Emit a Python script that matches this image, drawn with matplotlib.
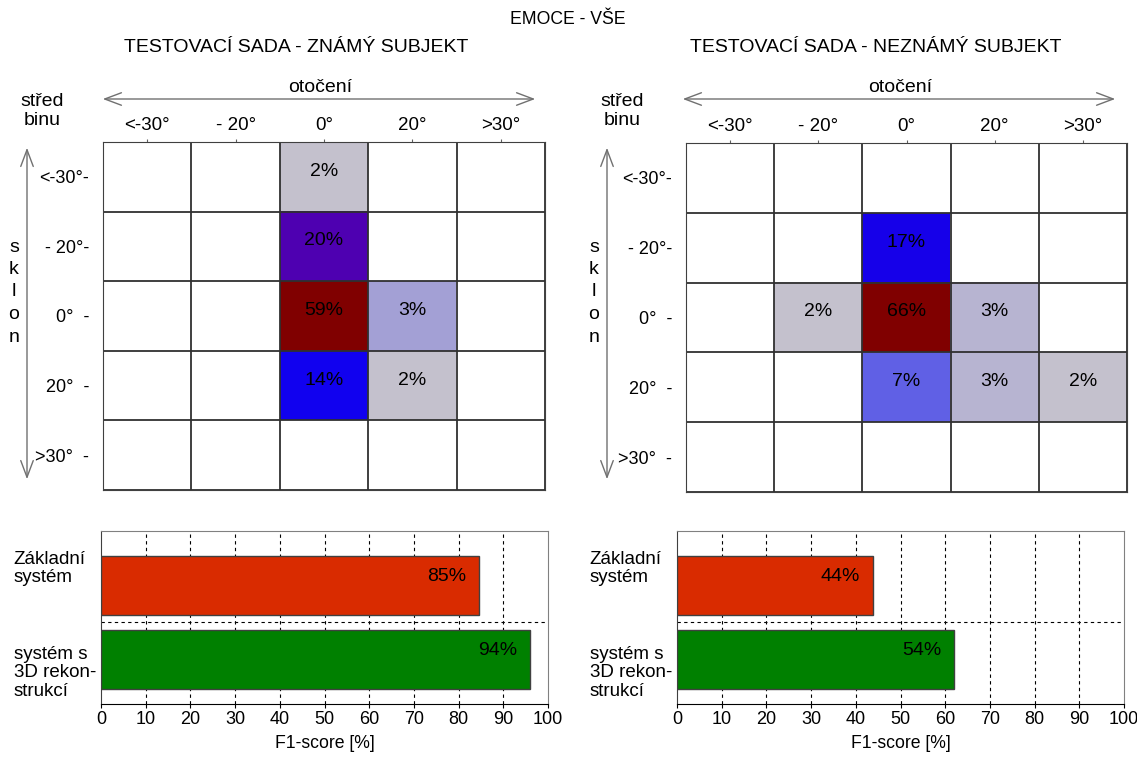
import numpy as np
import matplotlib.pyplot as plt
from matplotlib.colors import LinearSegmentedColormap

plt.rcParams['font.family'] = ['Liberation Sans', 'DejaVu Sans']

W, H = 1137, 758

rot_labels = ['<-30°', '- 20°', '0°', '20°', '>30°']
tilt_labels = ['<-30°-', '- 20°-', '0°  -', '20°  -', '>30°  -']

# radky = sklon, sloupce = otoceni, 0 = prazdna bunka
known = np.array([
    [0, 0, 2, 0, 0],
    [0, 0, 20, 0, 0],
    [0, 0, 59, 3, 0],
    [0, 0, 14, 2, 0],
    [0, 0, 0, 0, 0],
])
unknown = np.array([
    [0, 0, 0, 0, 0],
    [0, 0, 17, 0, 0],
    [0, 2, 66, 3, 0],
    [0, 0, 7, 3, 2],
    [0, 0, 0, 0, 0],
])

systems = ['Základní\nsystém', 'systém s\n3D rekon-\nstrukcí']
f1_known = [84.5, 96]
f1_known_txt = ['85%', '94%']
f1_unknown = [43.8, 62]
f1_unknown_txt = ['44%', '54%']

cmap = LinearSegmentedColormap.from_list('emo', [
    (0.0, '#C8C6CC'), (0.034, '#C4C1CE'), (0.046, '#B3B0D2'),
    (0.051, '#A3A0D6'), (0.106, '#6060E6'), (0.237, '#1000F0'),
    (0.258, '#1800E8'), (0.339, '#5000B0'), (0.65, '#700050'),
    (1.0, '#800000')])


def rect(x0, y0, x1, y1):
    # pixely (odshora) -> souradnice figury
    return [x0 / W, 1 - y1 / H, (x1 - x0) / W, (y1 - y0) / H]


def fp(x, y):
    return (x / W, 1 - y / H)


fig = plt.figure(figsize=(W / 100, H / 100), dpi=100)

fig.text(*fp(568, 20), 'EMOCE - VŠE', ha='center', va='center', fontsize=12.7)


def heatmap(box, data, title, dx):
    ax = fig.add_axes(rect(*box))
    ax.imshow(np.ma.masked_equal(data, 0), cmap=cmap, vmin=0, vmax=data.max(),
              aspect='auto', extent=(-0.5, 4.5, 4.5, -0.5), interpolation='nearest')
    ax.set_xlim(-0.5, 4.5)
    ax.set_ylim(4.5, -0.5)
    for k in np.arange(-0.5, 5):
        ax.axhline(k, color='#303030', lw=1.3)
        ax.axvline(k, color='#303030', lw=1.3)
    for i in range(5):
        for j in range(5):
            if data[i, j]:
                ax.text(j, i - 0.08, f'{data[i, j]}%', ha='center', va='center', fontsize=14)
    ax.xaxis.tick_top()
    ax.set_xticks(range(5), rot_labels, fontsize=13.5)
    ax.set_yticks(range(5), tilt_labels, fontsize=13)
    ax.tick_params(axis='x', length=2, pad=4, color='#606060')
    ax.tick_params(axis='y', length=0, pad=10)
    for s in ax.spines.values():
        s.set_color('#404040')
    fig.text(*fp(296 + dx, 48), title, ha='center', va='center', fontsize=14)
    fig.text(*fp(320 + dx, 88), 'otočení', ha='center', va='center', fontsize=14)
    fig.text(*fp(42 + dx, 111), 'střed\nbinu', ha='center', va='center',
             fontsize=14, linespacing=1.15)
    arr = dict(arrowstyle='<->,head_length=1.2,head_width=0.45', color='#707070', lw=1)
    ax.annotate('', xy=fp(538 + dx, 99), xytext=fp(100 + dx, 99),
                xycoords='figure fraction', arrowprops=arr, annotation_clip=False)
    ax.annotate('', xy=fp(27 + dx, 482), xytext=fp(27 + dx, 145),
                xycoords='figure fraction', arrowprops=arr, annotation_clip=False)
    for k, ch in enumerate('sklon'):
        fig.text(*fp(14 + dx, 247 + k * 22.5), ch, ha='center', va='center', fontsize=14)
    return ax


def f1_bars(box, vals, txt, dx):
    ax = fig.add_axes(rect(*box))
    ax.barh([1, 0], vals, height=0.8, color=['#D92B00', '#008000'],
            edgecolor='#404040', lw=1, zorder=3)
    for y, v, t in zip([1, 0], vals, txt):
        ax.annotate(t, (v, y + 0.12), xytext=(-9, 0), textcoords='offset points',
                    ha='right', va='center', fontsize=14, zorder=4)
    ax.set_xlim(0, 100)
    ax.set_ylim(-0.6, 1.73)
    ax.set_xticks(range(0, 101, 10))
    for x in range(10, 100, 10):
        ax.axvline(x, color='black', ls=(0, (3, 3)), lw=0.8, zorder=1)
    ax.axhline(0.5, color='black', ls=(0, (3, 3)), lw=0.8, zorder=1)
    ax.set_yticks([])
    ax.tick_params(axis='x', labelsize=13, length=3, pad=2)
    ax.set_xlabel('F1-score [%]', fontsize=12.7, labelpad=5)
    ax.text(-0.195, 0.785, systems[0], transform=ax.transAxes, ha='left', va='center',
            fontsize=13.5, linespacing=1.1)
    ax.text(-0.195, 0.18, systems[1], transform=ax.transAxes, ha='left', va='center',
            fontsize=13.5, linespacing=1.1)
    ax.spines['top'].set_color('#808080')
    ax.spines['right'].set_color('#808080')
    ax.spines['left'].set_color('#404040')
    return ax


heatmap((103, 142, 545, 490), known, 'TESTOVACÍ SADA - ZNÁMÝ SUBJEKT', 0)
heatmap((686, 143, 1127, 492), unknown, 'TESTOVACÍ SADA - NEZNÁMÝ SUBJEKT', 580)
f1_bars((101, 531, 548, 704), f1_known, f1_known_txt, 0)
f1_bars((677, 531, 1124, 704), f1_unknown, f1_unknown_txt, 576)

fig.savefig('out.png', dpi=100)
